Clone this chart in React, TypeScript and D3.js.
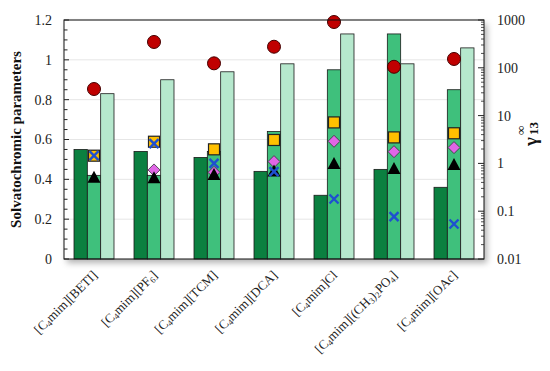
import React from "react";
import * as d3 from "d3";

const categories = ["BETI", "PF6", "TCM", "DCA", "Cl", "DMP", "OAc"];
// label parts: [text, isSub]
const labels: [string, boolean][][] = [
  [["[C", false], ["4", true], ["mim][BETI]", false]],
  [["[C", false], ["4", true], ["mim][PF", false], ["6", true], ["]", false]],
  [["[C", false], ["4", true], ["mim][TCM]", false]],
  [["[C", false], ["4", true], ["mim][DCA]", false]],
  [["[C", false], ["4", true], ["mim]Cl", false]],
  [["[C", false], ["4", true], ["mim][(CH", false], ["3", true], [")", false], ["2", true], ["PO", false], ["4", true], ["]", false]],
  [["[C", false], ["4", true], ["mim][OAc]", false]],
];

const alpha = [0.55, 0.54, 0.51, 0.44, 0.32, 0.45, 0.36];
const beta = [0.42, 0.42, 0.54, 0.64, 0.95, 1.13, 0.85];
const piStar = [0.83, 0.9, 0.94, 0.98, 1.13, 0.98, 1.06];

const gammaCircle = [36, 347, 124, 276, 908, 105, 153];
const gammaSquare = [1.45, 2.84, 1.97, 3.09, 7.2, 3.5, 4.27];
const gammaDiamond: (number | null)[] = [null, 0.73, 0.65, 1.09, 2.9, 1.76, 2.14];
const gammaTriangle = [0.5, 0.49, 0.57, 0.68, 0.97, 0.76, 0.93];
const gammaCross = [1.45, 2.6, 1.0, 0.67, 0.18, 0.077, 0.054];

const leftTicks = [0, 0.2, 0.4, 0.6, 0.8, 1, 1.2];
const rightTicks = [0.01, 0.1, 1, 10, 100, 1000];

const W = 550, H = 371;
const L = 64, R = 484, T = 20, B = 259;
const serif = "'Liberation Serif', 'DejaVu Serif', serif";

export default function App() {
  const x = d3.scaleBand<string>().domain(categories).range([L, R]).paddingInner(1 / 3).paddingOuter(1 / 6);
  const xs = d3.scaleBand<number>().domain([0, 1, 2]).range([0, x.bandwidth()]);
  const y = d3.scaleLinear().domain([0, 1.2]).range([B, T]);
  const y2 = d3.scaleLog().domain([0.01, 1000]).range([B, T]);

  const barColors = ["#0b8040", "#3fc07c", "#b6e8cd"];
  const series = [alpha, beta, piStar];

  const minorLeft = d3.range(0, 1.2001, 0.05);
  const minorRight: number[] = [];
  for (let e = -2; e < 3; e++) for (let k = 2; k <= 9; k++) minorRight.push(k * Math.pow(10, e));

  const mx = (i: number) => (x(categories[i]) as number) + (xs(1) as number) + xs.bandwidth() / 2;

  return (
    <svg width={W} height={H} style={{ display: "block", position: "absolute", left: 0, top: 0 }} fontFamily={serif}>
      <defs>
        <filter id="sh" x="-10%" y="-10%" width="130%" height="130%">
          <feDropShadow dx="3" dy="4" stdDeviation="3" floodColor="#000" floodOpacity="0.3" />
        </filter>
      </defs>
      <rect x={L} y={T} width={R - L} height={B - T} fill="#fff" filter="url(#sh)" />
      {leftTicks.slice(1).map((t) => (
        <line key={t} x1={L} x2={R} y1={y(t)} y2={y(t)} stroke="#e6e6e6" strokeWidth={1} />
      ))}
      {series.map((s, si) =>
        s.map((v, i) => (
          <rect
            key={si + "-" + i}
            x={(x(categories[i]) as number) + (xs(si) as number)}
            y={y(v)}
            width={xs.bandwidth()}
            height={B - y(v)}
            fill={barColors[si]}
            stroke="#1a1a1a"
            strokeWidth={0.8}
          />
        ))
      )}
      {/* markers */}
      {gammaCircle.map((v, i) => (
        <circle key={"c" + i} cx={mx(i)} cy={y2(v)} r={6.5} fill="#c00000" stroke="#400" strokeWidth={1} />
      ))}
      {gammaSquare.map((v, i) => (
        <rect key={"s" + i} x={mx(i) - 5.5} y={y2(v) - 5.5} width={11} height={11} fill="#ffc000" stroke="#222" strokeWidth={1.2} />
      ))}
      {gammaDiamond.map((v, i) =>
        v == null ? null : (
          <path key={"d" + i} d={`M${mx(i)},${y2(v) - 6}L${mx(i) + 6},${y2(v)}L${mx(i)},${y2(v) + 6}L${mx(i) - 6},${y2(v)}Z`} fill="#e066e6" stroke="#333" strokeWidth={0.8} />
        )
      )}
      {gammaTriangle.map((v, i) => (
        <path key={"t" + i} d={`M${mx(i)},${y2(v) - 7}L${mx(i) + 6.5},${y2(v) + 5}L${mx(i) - 6.5},${y2(v) + 5}Z`} fill="#000" />
      ))}
      {gammaCross.map((v, i) => (
        <path key={"x" + i} d={`M${mx(i) - 4.5},${y2(v) - 4.5}L${mx(i) + 4.5},${y2(v) + 4.5}M${mx(i) + 4.5},${y2(v) - 4.5}L${mx(i) - 4.5},${y2(v) + 4.5}`} stroke="#1f4fd0" strokeWidth={2.4} />
      ))}
      {/* frame */}
      <rect x={L} y={T} width={R - L} height={B - T} fill="none" stroke="#111" strokeWidth={1} />
      {/* left ticks */}
      {minorLeft.map((t, i) => (
        <line key={"lm" + i} x1={L} x2={L + (i % 4 === 0 ? 5 : 3.5)} y1={y(t)} y2={y(t)} stroke="#222" strokeWidth={1} />
      ))}
      {leftTicks.map((t) => (
        <text key={"lt" + t} x={L - 12} y={y(t)} dy="0.35em" textAnchor="end" fontSize={14} fill="#222">
          {d3.format("~g")(t)}
        </text>
      ))}
      {/* right ticks */}
      {minorRight.map((t, i) => (
        <line key={"rm" + i} x1={R} x2={R - 3} y1={y2(t)} y2={y2(t)} stroke="#222" strokeWidth={0.8} />
      ))}
      {rightTicks.map((t) => (
        <line key={"rM" + t} x1={R} x2={R - 6} y1={y2(t)} y2={y2(t)} stroke="#222" strokeWidth={1} />
      ))}
      {rightTicks.map((t) => (
        <text key={"rt" + t} x={R + 13} y={y2(t)} dy="0.35em" textAnchor="start" fontSize={14} fill="#222">
          {String(t)}
        </text>
      ))}
      {/* axis titles */}
      <text transform={`translate(21,${(T + B) / 2}) rotate(-90)`} textAnchor="middle" fontSize={15} fontWeight="bold" fill="#111">
        Solvatochromic parameters
      </text>
      <text transform={`translate(537,146) rotate(-90)`} textAnchor="start" fontSize={19} fontWeight="bold" fill="#111">
        γ
      </text>
      <text transform={`translate(525,135) rotate(-90)`} textAnchor="start" fontSize={13} fontWeight="bold" fill="#111">
        ∞
      </text>
      <text transform={`translate(538,135) rotate(-90)`} textAnchor="start" fontSize={13} fontWeight="bold" fill="#111">
        13
      </text>
      {/* x labels */}
      {labels.map((parts, i) => {
        const cx = (x(categories[i]) as number) + x.bandwidth() / 2 + 4;
        return (
          <text key={"xl" + i} transform={`translate(${cx},276) rotate(-45)`} textAnchor="end" fontSize={13} fill="#222">
            {parts.map(([s, sub], j) => (
              <tspan key={j} fontSize={sub ? 8.5 : 13} dy={sub ? 2 : j > 0 && parts[j - 1][1] ? -2 : 0}>
                {s}
              </tspan>
            ))}
          </text>
        );
      })}
    </svg>
  );
}
